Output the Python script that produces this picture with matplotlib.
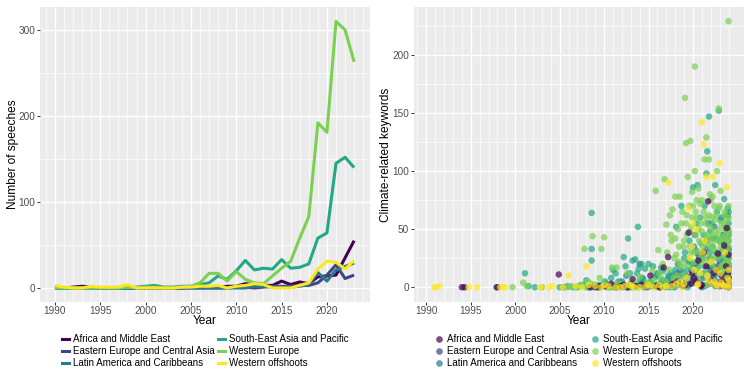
import matplotlib
matplotlib.use("Agg")
import matplotlib.pyplot as plt
from matplotlib.lines import Line2D

plt.rcParams['font.family'] = ['Liberation Sans', 'DejaVu Sans']

# ---------------- data ----------------
regions = ["Africa and Middle East", "Eastern Europe and Central Asia",
           "Latin America and Caribbeans", "South-East Asia and Pacific",
           "Western Europe", "Western offshoots"]
colors = ["#440154", "#414487", "#2A788E", "#22A884", "#7AD151", "#FDE725"]

years = list(range(1990, 2024))
speeches_africa = [0, 0, 1, 2, 1, 0, 0, 0, 0, 0, 0, 0, 0, 0, 0, 1, 1, 1, 1, 2,
                   2, 5, 4, 3, 3, 8, 4, 7, 5, 13, 14, 15, 35, 55]
speeches_ee = [0, 0, 0, 0, 0, 0, 0, 0, 0, 0, 0, 0, 0, 0, 0, 0, 0, 0, 0, 0,
               1, 1, 0, 1, 2, 2, 2, 3, 3, 6, 15, 27, 11, 15]
speeches_latam = [0, 0, 0, 0, 0, 0, 0, 0, 0, 0, 0, 0, 0, 0, 0, 0, 0, 0, 0, 0,
                  0, 0, 2, 2, 1, 1, 1, 2, 4, 18, 8, 21, 25, 29]
speeches_sea = [0, 0, 0, 0, 0, 0, 0, 0, 0, 1, 2, 3, 1, 1, 2, 2, 4, 6, 14, 10,
                20, 32, 21, 23, 22, 33, 23, 24, 28, 58, 64, 145, 152, 140]
speeches_we = [0, 0, 0, 0, 0, 0, 0, 0, 1, 0, 1, 1, 0, 0, 1, 2, 6, 17, 17, 8,
               19, 10, 6, 5, 14, 23, 31, 58, 83, 192, 181, 310, 300, 263]
speeches_wo = [3, 1, 0, 0, 2, 1, 1, 1, 4, 0, 0, 0, 0, 0, 1, 1, 2, 2, 3, 0,
               2, 3, 5, 4, 0, 0, 0, 3, 6, 22, 31, 30, 22, 32]

# scatter: speech date (fractional year) and number of climate keywords
we_year = [1999.7, 2000.9, 2001.3, 2003.0, 2005.2, 2006.3, 2006.8, 2007.3, 2007.8, 2008.2,
           2008.7, 2008.9, 2009.5, 2009.7, 2010.0, 2010.4, 2010.9, 2011.4, 2011.7, 2012.2,
           2012.6, 2013.0, 2013.5, 2014.0, 2014.5, 2015.0, 2015.4, 2015.8, 2016.1, 2016.4,
           2016.8, 2017.0, 2017.2, 2017.4, 2017.6, 2017.7, 2017.9, 2018.0, 2018.2, 2018.4,
           2018.5, 2018.7, 2018.9, 2019.1, 2019.2, 2019.3, 2019.4, 2019.6, 2019.7, 2019.8,
           2019.9, 2020.0, 2020.2, 2020.2, 2020.4, 2020.6, 2020.7, 2020.9, 2021.0, 2021.2,
           2021.3, 2021.5, 2021.6, 2021.8, 2021.9, 2022.0, 2022.1, 2022.3, 2022.4, 2022.5,
           2022.7, 2022.8, 2022.9, 2023.0, 2023.1, 2023.2, 2023.4, 2023.5, 2023.6, 2023.7,
           2023.8, 2023.9, 2024.0, 2024.0, 2024.0, 2021.4, 2019.0, 2016.0, 2013.8, 2011.0,
           2016.2, 2016.6, 2016.9, 2017.1, 2017.3, 2017.5, 2017.8, 2018.1, 2018.3, 2018.6,
           2018.8, 2019.0, 2019.1, 2019.3, 2019.5, 2019.6, 2019.8, 2020.0, 2020.1, 2020.3,
           2020.4, 2020.5, 2020.7, 2020.8, 2021.0, 2021.1, 2021.2, 2021.4, 2021.5, 2021.7,
           2021.8, 2022.0, 2022.1, 2022.2, 2022.4, 2022.5, 2022.6, 2022.8, 2022.9, 2023.0,
           2023.1, 2023.3, 2023.4, 2023.5, 2023.6, 2023.7, 2023.8, 2023.9, 2024.0, 2024.0,
           2024.0, 2024.0, 2024.0, 2015.2, 2015.6, 2014.8, 2014.2, 2013.2, 2012.4, 2011.2,
           2010.7, 2009.9, 2009.2, 2008.5, 2007.6,
           2018.0, 2018.4, 2018.9, 2019.2, 2019.4, 2019.7, 2019.9, 2020.1, 2020.3, 2020.5,
           2020.6, 2020.8, 2021.0, 2021.1, 2021.3, 2021.4, 2021.6, 2021.7, 2021.9, 2022.0,
           2022.2, 2022.3, 2022.5, 2022.6, 2022.7, 2022.9, 2023.0, 2023.2, 2023.3, 2023.5,
           2023.6, 2023.8, 2023.9, 2024.0, 2024.0, 2006.0, 2007.0, 2008.0, 2009.0, 2010.2,
           2011.5, 2012.8, 2013.6, 2014.4, 2015.0, 2016.3, 2017.0, 2018.1]
we_kw = [0, 4, 1, 0, 0, 1, 0, 2, 33, 5,
         44, 2, 8, 33, 43, 1, 17, 17, 3, 0,
         12, 2, 0, 9, 1, 4, 14, 83, 32, 8,
         93, 54, 1, 62, 40, 67, 25, 78, 10, 35,
         78, 55, 20, 163, 124, 45, 95, 70, 126, 30,
         60, 12, 190, 100, 75, 85, 40, 55, 20, 65,
         110, 129, 45, 110, 80, 35, 60, 25, 70, 48,
         100, 40, 154, 15, 83, 55, 30, 62, 45, 22,
         38, 10, 229, 40, 3, 2, 1, 0, 0, 0,
         12, 20, 5, 30, 15, 45, 8, 28, 50, 18,
         65, 40, 10, 62, 25, 35, 52, 70, 22, 45,
         60, 15, 30, 72, 48, 38, 12, 55, 28, 42,
         62, 75, 20, 45, 32, 58, 15, 25, 68, 50,
         35, 42, 20, 55, 65, 8, 48, 30, 60, 45,
         35, 20, 70, 2, 6, 3, 1, 4, 1, 2,
         0, 1, 2, 3, 1,
         42, 22, 35, 55, 18, 48, 82, 30, 65, 12,
         50, 25, 75, 35, 22, 60, 8, 38, 52, 25,
         78, 40, 15, 62, 30, 45, 70, 18, 40, 28,
         52, 15, 58, 25, 50, 0, 1, 0, 2, 0,
         1, 0, 2, 0, 1, 0, 2, 1]

sea_year = [2001.1, 2001.5, 2002.2, 2005.0, 2005.9, 2007.0, 2007.6, 2008.0, 2008.6, 2008.6,
            2008.6, 2008.9, 2009.3, 2010.2, 2010.8, 2011.3, 2011.6, 2012.2, 2012.7, 2012.9,
            2013.2, 2013.5, 2013.8, 2013.9, 2014.2, 2014.4, 2014.8, 2015.2, 2015.5, 2015.9,
            2016.3, 2016.6, 2017.0, 2017.5, 2018.1, 2018.5, 2018.7, 2019.0, 2019.3, 2019.6,
            2019.9, 2020.0, 2020.3, 2020.5, 2020.8, 2021.0, 2021.2, 2021.5, 2021.6, 2021.8,
            2021.9, 2022.1, 2022.3, 2022.5, 2022.7, 2022.9, 2023.0, 2023.2, 2023.5, 2023.7,
            2023.9, 2024.0, 2024.0, 2024.0, 2023.3, 2021.3, 2019.4, 2017.8, 2016.9, 2013.1,
            2011.9, 2010.5,
            2009.6, 2010.1, 2010.6, 2011.0, 2011.8, 2012.4, 2013.0, 2013.7, 2014.0, 2014.6,
            2015.0, 2015.3, 2015.8, 2016.1, 2016.4, 2016.8, 2017.2, 2017.6, 2018.0, 2018.3,
            2018.8, 2019.1, 2019.4, 2019.7, 2020.1, 2020.4, 2020.6, 2020.9, 2021.1, 2021.3,
            2021.6, 2021.9, 2022.0, 2022.2, 2022.4, 2022.6, 2022.8, 2023.0, 2023.1, 2023.3,
            2023.4, 2023.6, 2023.7, 2023.8, 2023.9, 2024.0, 2024.0, 2024.0, 2024.0, 2024.0,
            2006.5, 2007.3, 2008.3, 2009.8, 2011.4, 2012.6, 2014.1, 2015.6, 2017.4, 2018.7,
            2020.2, 2021.6, 2022.5, 2023.6]
sea_kw = [12, 1, 0, 0, 1, 0, 2, 6, 64, 33,
          23, 1, 0, 3, 8, 12, 5, 26, 42, 12,
          23, 24, 52, 16, 20, 7, 2, 5, 18, 10,
          3, 14, 6, 12, 52, 8, 70, 25, 15, 40,
          20, 86, 32, 88, 60, 10, 45, 98, 117, 147,
          30, 55, 18, 88, 65, 152, 40, 25, 76, 50,
          68, 30, 12, 55, 2, 1, 0, 1, 0, 0,
          0, 0,
          2, 5, 1, 15, 4, 18, 3, 12, 6, 16,
          20, 4, 9, 2, 17, 5, 10, 3, 15, 6,
          12, 30, 8, 22, 14, 55, 18, 38, 25, 70,
          12, 48, 22, 35, 10, 42, 28, 18, 58, 32,
          12, 45, 20, 62, 26, 40, 20, 8, 48, 65,
          0, 1, 0, 2, 1, 0, 3, 1, 0, 2,
          4, 2, 1, 3]

latam_year = [2009.2, 2010.6, 2011.1, 2012.0, 2012.5, 2013.3, 2014.0, 2014.6, 2015.1, 2015.7,
              2016.5, 2017.3, 2018.0, 2018.6, 2019.0, 2019.5, 2020.1, 2020.4, 2020.9, 2021.3,
              2021.7, 2022.0, 2022.2, 2022.6, 2022.9, 2023.2, 2023.5, 2023.8, 2024.0, 2024.0,
              2021.0, 2017.9,
              2013.0, 2014.3, 2015.4, 2016.0, 2016.9, 2017.6, 2018.3, 2019.2, 2019.8, 2020.2,
              2020.7, 2021.1, 2021.5, 2021.9, 2022.4, 2022.8, 2023.0, 2023.4, 2023.7, 2023.9,
              2024.0, 2024.0]
latam_kw = [0, 1, 0, 5, 10, 2, 20, 0, 3, 1,
            6, 2, 8, 15, 3, 22, 35, 10, 28, 18,
            55, 8, 42, 30, 12, 60, 22, 35, 25, 5,
            0, 0,
            3, 8, 1, 12, 4, 10, 20, 5, 15, 45,
            25, 8, 33, 18, 52, 26, 15, 40, 10, 62,
            45, 18]

ee_year = [1997.9, 2005.5, 2008.2, 2010.0, 2011.5, 2012.8, 2013.6, 2014.9, 2015.9, 2016.8,
           2017.8, 2018.6, 2019.2, 2019.8, 2020.3, 2020.8, 2021.2, 2021.9, 2022.3, 2022.8,
           2023.2, 2023.6, 2024.0, 2024.0,
           2009.5, 2012.1, 2014.3, 2016.2, 2017.3, 2018.2, 2019.5, 2020.6, 2021.5, 2022.0,
           2022.6, 2023.0, 2023.4, 2023.9, 2024.0]
ee_kw = [0, 0, 0, 1, 2, 0, 1, 0, 2, 1,
         4, 2, 10, 6, 20, 3, 12, 25, 8, 18,
         5, 30, 15, 2,
         0, 1, 3, 0, 8, 12, 2, 28, 40, 15,
         5, 22, 45, 10, 33]

africa_year = [1994.0, 1994.3, 1998.0, 2004.9, 2009.0, 2009.4, 2010.8, 2011.9, 2012.6, 2013.2,
               2013.6, 2014.2, 2015.2, 2015.9, 2016.7, 2017.2, 2017.6, 2018.3, 2018.9, 2019.5,
               2019.8, 2020.1, 2020.6, 2021.0, 2021.5, 2021.7, 2022.0, 2022.3, 2022.8, 2022.9,
               2023.2, 2023.5, 2023.6, 2023.7, 2023.8, 2023.9, 2024.0, 2024.0, 2023.1,
               2008.5, 2010.1, 2011.4, 2012.2, 2014.7, 2016.3, 2017.9, 2019.1, 2019.9, 2020.4,
               2020.9, 2021.2, 2022.1, 2022.6, 2023.0, 2023.4, 2023.9, 2024.0, 2024.0]
africa_kw = [0, 0, 0, 11, 0, 1, 3, 1, 0, 7,
             1, 2, 10, 1, 17, 26, 2, 5, 1, 47,
             3, 8, 23, 2, 18, 74, 6, 12, 29, 1,
             10, 36, 1, 18, 51, 6, 2, 0, 1,
             0, 1, 0, 2, 1, 0, 3, 2, 12, 5,
             1, 30, 3, 15, 2, 5, 12, 28, 8]

wo_year = [1990.9, 1991.1, 1991.5, 1994.8, 1995.7, 1998.3, 1998.6, 1998.9, 2002.8, 2003.8,
           2004.2, 2006.0, 2006.8, 2007.5, 2008.0, 2008.3, 2009.7, 2010.5, 2011.8, 2012.8,
           2013.1, 2013.4, 2014.7, 2015.6, 2016.2, 2017.2, 2017.0, 2018.1, 2018.8, 2019.3,
           2019.5, 2019.9, 2020.0, 2020.3, 2020.5, 2020.8, 2021.0, 2021.1, 2021.2, 2021.5,
           2021.8, 2022.1, 2022.2, 2022.6, 2023.0, 2023.2, 2023.5, 2023.8, 2023.9, 2024.0,
           2024.0, 2022.9,
           2005.4, 2009.0, 2010.0, 2011.3, 2012.3, 2014.0, 2015.0, 2016.6, 2017.6, 2018.5,
           2019.0, 2019.7, 2020.1, 2020.6, 2021.3, 2021.6, 2022.0, 2022.4, 2022.7, 2023.1,
           2023.4, 2023.6, 2024.0, 2024.0]
wo_kw = [0, 0, 1, 0, 0, 0, 0, 0, 0, 0,
         1, 10, 1, 0, 18, 2, 0, 1, 0, 2,
         1, 0, 1, 0, 2, 90, 1, 3, 0, 8,
         68, 35, 55, 50, 2, 12, 142, 30, 123, 95,
         6, 3, 95, 15, 107, 4, 1, 86, 8, 2,
         0, 1,
         0, 1, 2, 0, 1, 0, 2, 0, 1, 5,
         3, 25, 15, 3, 40, 10, 22, 5, 2, 12,
         2, 30, 6, 15]

line_series = [speeches_africa, speeches_ee, speeches_latam,
               speeches_sea, speeches_we, speeches_wo]
scatter_series = [(africa_year, africa_kw), (ee_year, ee_kw), (latam_year, latam_kw),
                  (sea_year, sea_kw), (we_year, we_kw), (wo_year, wo_kw)]
scatter_order = [1, 2, 3, 4, 0, 5]

# ---------------- figure ----------------
W, H = 754, 375
fig = plt.figure(figsize=(W / 100, H / 100), dpi=100)
ax1 = fig.add_axes([40 / W, 73 / H, 330 / W, 295 / H])
ax2 = fig.add_axes([413.7 / W, 73 / H, 330 / W, 295 / H])

PANEL = "#EBEBEB"


def style(ax, yminor, ylabel, ylab_x):
    ax.set_facecolor(PANEL)
    for s in ax.spines.values():
        s.set_visible(False)
    ax.set_xticks(list(range(1990, 2021, 5)))
    ax.set_xticks([y for y in range(1989, 2026) if y % 5 != 0], minor=True)
    ax.set_yticks(yminor, minor=True)
    ax.grid(which="major", color="white", linewidth=1.0)
    ax.grid(which="minor", color="white", linewidth=0.5)
    ax.set_axisbelow(True)
    ax.tick_params(which="major", color="#333333", length=2.2, width=0.7,
                   labelcolor="#4D4D4D", labelsize=7.2, pad=1.0)
    ax.tick_params(which="minor", length=0)
    ax.set_xlabel("Year", fontsize=8.6)
    ax.xaxis.set_label_coords(0.5, -(321 - 302) / 295)
    ax.xaxis.label.set_va("center")
    ax.set_ylabel(ylabel, fontsize=8.6)
    ax.yaxis.set_label_coords(ylab_x, 0.5)
    ax.yaxis.label.set_va("center")


# left panel
for vals, c, r in zip(line_series, colors, regions):
    ax1.plot(years, vals, color=c, linewidth=2.2, solid_joinstyle="round",
             solid_capstyle="butt", label=r)
ax1.set_xlim(1988.35, 2024.75)
ax1.set_ylim(-16.3, 326.7)
ax1.set_yticks([0, 100, 200, 300])
style(ax1, [50, 150, 250], "Number of speeches", (13 - 40) / 330)

# right panel
for i in scatter_order:
    xs, ys = scatter_series[i]
    ax2.scatter(xs, ys, s=22, color=colors[i], alpha=0.7, edgecolors="none")
ax2.set_xlim(1988.58, 2025.7)
ax2.set_ylim(-12.7, 241.3)
ax2.set_yticks([0, 50, 100, 150, 200])
style(ax2, [25, 75, 125, 175, 225], "Climate-related keywords", (386.5 - 413.7) / 330)

# legends
line_handles = [Line2D([], [], color=c, linewidth=2.2) for c in colors]
pt_handles = [Line2D([], [], color=c, marker="o", linestyle="none",
                     markersize=4.8, alpha=0.7, markeredgewidth=0) for c in colors]
common = dict(ncol=2, frameon=False, fontsize=7.05, loc="upper left",
              borderpad=0, borderaxespad=0, handlelength=0.7,
              handletextpad=0.45, columnspacing=0.3, labelspacing=0.2)
fig.legend(line_handles, regions, bbox_to_anchor=(61.7 / W, 1 - 334.5 / H), **common)
fig.legend(pt_handles, regions, bbox_to_anchor=(435.5 / W, 1 - 334.5 / H), **common)

fig.savefig("out.png", dpi=100)
